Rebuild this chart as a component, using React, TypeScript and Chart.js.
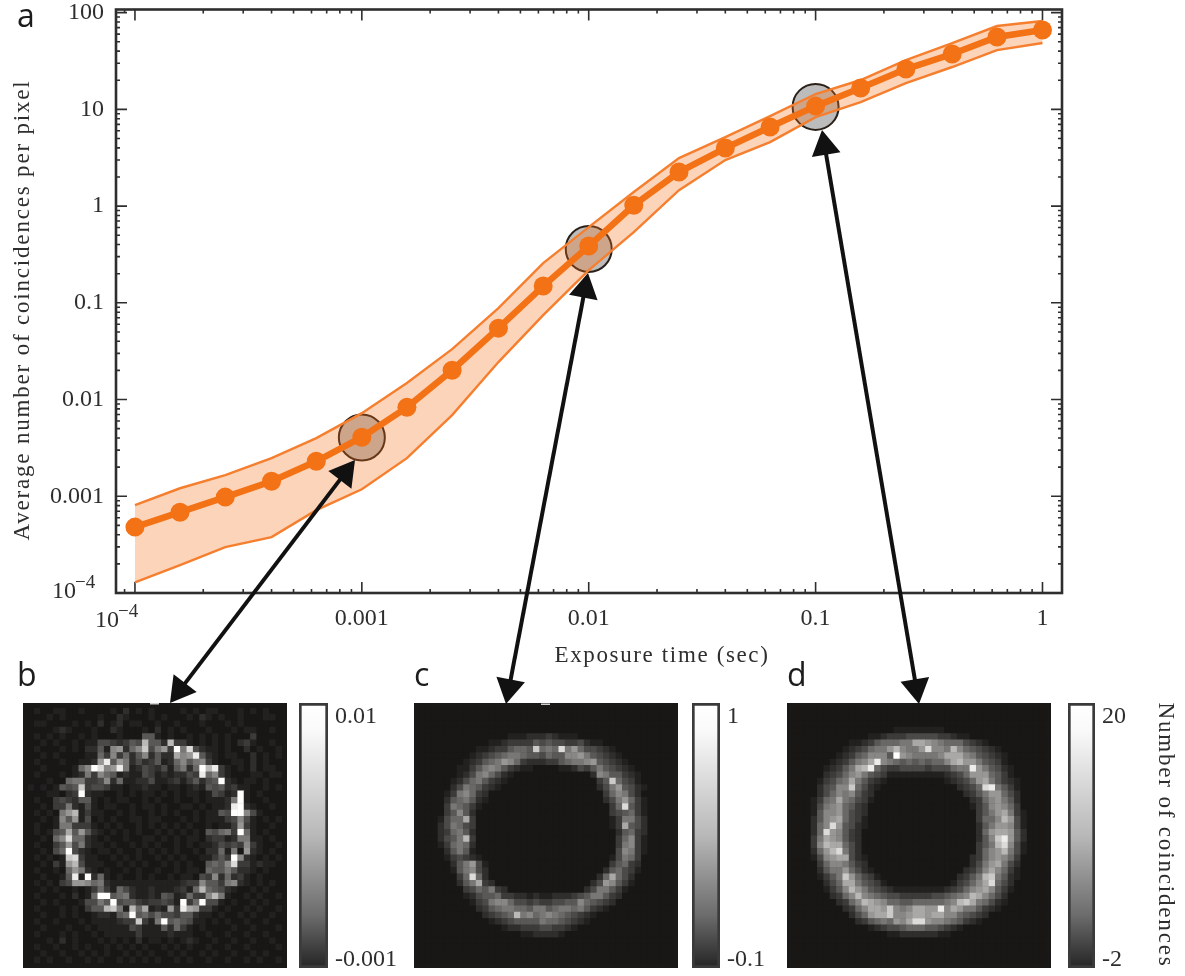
import React, { useEffect, useRef } from "react";
import { Chart, registerables } from "chart.js";

Chart.register(...registerables);

const SERIF = '"Liberation Serif", serif';
const SANS = '"Open Sans", sans-serif';
const INK = "#2e2e2e";
const ORANGE = "#f47216";

// ---------- panel a ----------
const exposure = [0.0001, 0.000158, 0.00025, 0.0004, 0.00063, 0.001, 0.00158, 0.0025, 0.004, 0.0063, 0.01, 0.0158, 0.025, 0.04, 0.063, 0.1, 0.158, 0.25, 0.4, 0.63, 1];
const meanCoincidences = [0.00048, 0.000685, 0.00098, 0.00143, 0.0023, 0.00408, 0.0083, 0.0201, 0.0547, 0.149, 0.386, 1.02, 2.25, 3.98, 6.56, 10.8, 16.6, 26.1, 37.3, 56, 66];
const upperBand = [0.000809, 0.00121, 0.00165, 0.00248, 0.00399, 0.00723, 0.0148, 0.0332, 0.0881, 0.257, 0.606, 1.4, 3.13, 5.17, 8.52, 14.4, 20.1, 32.3, 48.5, 72.7, 81.9];
const lowerBand = [0.000129, 0.000194, 0.000298, 0.000378, 0.000718, 0.00118, 0.00248, 0.0069, 0.0244, 0.0746, 0.218, 0.538, 1.46, 2.99, 4.59, 8.32, 11.9, 18.7, 27.4, 41, 48.5];
const markedExposure = [0.001, 0.01, 0.1];
const markedCoincidences = [0.00405, 0.36, 10.6];
const xTickLabels: Record<string, string> = { "-3": "0.001", "-2": "0.01", "-1": "0.1", "0": "1" };
const yTickLabels: Record<string, string> = { "-3": "0.001", "-2": "0.01", "-1": "0.1", "0": "1", "1": "10", "2": "100" };
const POWER_BASE = "10";
const POWER_EXP = "\u22124";
const X_TITLE = "Exposure time (sec)";
const Y_TITLE = "Average number of coincidences per pixel";
const COLORBAR_TITLE = "Number of coincidences";
const ARROWS = [
  [355, 460, 170, 703],
  [588, 273, 506, 704],
  [822, 130, 919, 704],
];

// ---------- panels b, c, d: one hex digit per cell, 0 = darkest, f = white ----------
const imageB = [
  "0100110010 0001020101 0000101011 0001010100",
  "0001010000 0100210001 0100010210 1001000110",
  "0110000101 0201201100 1001000100 0101000000",
  "0000121000 1002100010 2010100010 0010110010",
  "0101010010 1000100055 1010010101 0100030000",
  "0010100101 14432354b5 52b3310101 0102310010",
  "0100010102 25189268c4 793f7d4211 0100201001",
  "0010100001 1638362582 522a89e521 0110020101",
  "0100010011 29e5972423 5126857831 0011020100",
  "0010000168 fd89e71243 2415726fbe 3101020110",
  "0100010127 3865121143 1212243e68 3100011011",
  "0001006773 3482611224 1123135245 f210110100",
  "10101545c3 4431101121 1011012154 5231100101",
  "00011023f2 1100101011 0101011014 312f101000",
  "0100343255 1010110010 1001001011 127f100100",
  "0010337214 1011001011 0100110101 12ef210010",
  "0101079b13 1100101001 0101001011 54ff841000",
  "0010185914 0101001101 1000101011 1348410101",
  "0100177333 1010100101 0101010010 1139310010",
  "010145a595 2101010100 1010101054 673f610100",
  "001068d662 1010010011 0101011023 3127711010",
  "0100359472 1101001010 1001010112 4343831001",
  "001046f421 0110100101 0101001022 6170921010",
  "010101cd31 1001010100 1010100113 53f8210101",
  "0010319b41 1100101010 0101010056 58d3312110",
  "0100106972 1010010100 1001011065 5752210100",
  "0010015e1f 2610100101 0010110438 2623101000",
  "0101034998 6721111111 1111233855 3782101010",
  "0010100101 3631642112 1112316b65 4210010100",
  "0100010201 6ff5672112 154126338b 7100101001",
  "0010100014 475f455323 3431f36f44 1010010100",
  "0100010103 55bc71b6a1 2193ea9331 0100101001",
  "0010010100 122156f564 6443552110 1001010010",
  "0100100010 1111233c31 7f56541101 0100100100",
  "0010001001 0111114311 1526310100 0010010001",
  "0100010100 1011111311 1121110010 0100100100",
  "0001020100 0101010201 1010121001 0010010010",
  "0100100101 0010101010 0101010010 0100100001",
  "0010010010 1010010101 0010100101 0010010100",
  "0101001001 0100101010 1001010010 0100101001",
];

const imageC = [
  "0000000000 0000000000 0000000000 0000000000",
  "0000000000 0000000000 0000000000 0000000000",
  "0000000000 0000000000 0000000000 0000000000",
  "0000000000 0000000000 0000000000 0000000000",
  "0000000000 0000111222 3211100000 0000000000",
  "0000000000 0112333354 5443342110 0000000000",
  "0000000001 12335665c6 76d7964432 1000000000",
  "0000000012 3456776554 6558897543 2100000000",
  "0000000123 5679863222 3356778954 3210000000",
  "0000001135 7875321100 0011243575 4321000000",
  "0000001247 8642100000 0000000287 5532100000",
  "0000012467 5321000000 0000000035 c643100000",
  "0000024765 3210000000 0000000024 7954210000",
  "0000137863 2000000000 0000000003 6874200000",
  "0000256752 1000000000 0000000002 4796310000",
  "0000376531 0000000000 0000000000 36d5310000",
  "0000358520 0000000000 0000000000 3456310000",
  "0001466a30 0000000000 0000000000 1377420000",
  "0002476430 0000000000 0000000000 13a5420000",
  "0002367520 0000000000 0000000000 0256320000",
  "0002457b30 0000000000 0000000000 0368310000",
  "0001367620 0000000000 0000000000 0378310000",
  "0000257510 0000000000 0000000000 0487310000",
  "0000134321 0000000000 0000000000 1476300000",
  "0000025794 1000000000 0000000000 3563200000",
  "0000015784 2000000000 0000000002 5643100000",
  "00000036d6 2000000000 0000000026 a642000000",
  "000000257a 3200000000 0000000249 8531000000",
  "0000000346 5732000000 0000002477 5310000000",
  "0000000124 5563322121 1222345775 3200000000",
  "0000000013 4788644343 3445586543 2000000000",
  "0000000002 3567766577 5677675321 0000000000",
  "0000000000 23456b7867 8765432100 0000000000",
  "0000000000 0123455557 6654321000 0000000000",
  "0000000000 0001223334 4332100000 0000000000",
  "0000000000 0000001122 2210000000 0000000000",
  "0000000000 0000000000 0000000000 0000000000",
  "0000000000 0000000000 0000000000 0000000000",
  "0000000000 0000000000 0000000000 0000000000",
  "0000000000 0000000000 0000000000 0000000000",
];

const imageD = [
  "0000000000 0000000000 0000000000 0000000000",
  "0000000000 0000000000 0000000000 0000000000",
  "0000000000 0000000000 0000000000 0000000000",
  "0000000000 0000001111 1111000000 0000000000",
  "0000000000 0011233344 4443321100 0000000000",
  "0000000001 123566677a a987666432 1000000000",
  "0000000012 346779b877 9d887b8654 3210000000",
  "0000000123 568885f987 7778aaa875 4321000000",
  "0000001235 78ae876565 65668ab997 5431000000",
  "0000012357 abe6433444 43444677e9 7542100000",
  "0000023468 9754311111 1111234699 9653100000",
  "000013467a 7532100000 0000123469 a753210000",
  "000024588c 6421000000 0000002346 de75310000",
  "0000246878 5320000000 0000000235 7996420000",
  "0001367a76 4310000000 0000000023 6897520000",
  "0001478965 3200000000 0000000013 5898630000",
  "0001588964 3200000000 0000000003 579a731000",
  "0002589a64 3100000000 0000000003 668b941000",
  "000268d954 2100000000 0000000002 5799841000",
  "00026d9853 2000000000 0000000002 69aa952000",
  "00037a9853 2000000000 0000000002 58ce952000",
  "00038baa64 2000000000 0000000003 57bd841000",
  "000269bd74 2000000000 0000000003 689b741000",
  "0001489aa4 2100000000 0000000023 6898630000",
  "0000368875 3200000000 0000000024 79a7420000",
  "0000257796 4210000000 0000000235 8a86310000",
  "00001357c9 6431000000 0000002357 bc75210000",
  "00000246aa 7543100000 0000013468 ad64200000",
  "000001358b 9754321111 1111234689 a853100000",
  "0000002368 b876544333 33445678ba 8642000000",
  "0000000236 8ba9866556 666678bca7 6421000000",
  "0000000023 68aa9c878a a99e8a9775 3210000000",
  "0000000002 469aac889a a9aa886543 2000000000",
  "0000000000 23567698ad d988765321 0000000000",
  "0000000000 0012344566 6554321000 0000000000",
  "0000000000 0000011222 2221100000 0000000000",
  "0000000000 0000000000 0000000000 0000000000",
  "0000000000 0000000000 0000000000 0000000000",
  "0000000000 0000000000 0000000000 0000000000",
  "0000000000 0000000000 0000000000 0000000000",
];

const barB = { lo: -0.001, hi: 0.01, labels: ["0.01", "-0.001"] };
const barC = { lo: -0.1, hi: 1, labels: ["1", "-0.1"] };
const barD = { lo: -2, hi: 20, labels: ["20", "-2"] };

const FRAME_TOP = 9.5;
const FRAME_BOTTOM = 593;

function fittedText(ctx: any, text: string, cx: number, cy: number, width: number, angle: number, font: string) {
  ctx.save();
  ctx.translate(cx, cy);
  ctx.rotate(angle);
  ctx.font = font;
  ctx.fillStyle = INK;
  ctx.textAlign = "center";
  ctx.textBaseline = "middle";
  const natural = ctx.measureText(text).width;
  ctx.letterSpacing = (width - natural) / text.length + "px";
  ctx.fillText(text, 0, 0);
  ctx.restore();
}

function drawPower(ctx: any, left: number, midY: number) {
  ctx.save();
  ctx.fillStyle = INK;
  ctx.textAlign = "left";
  ctx.textBaseline = "middle";
  ctx.font = "24px " + SERIF;
  ctx.fillText(POWER_BASE, left, midY);
  ctx.font = "19px " + SERIF;
  ctx.fillText(POWER_EXP, left + 23, midY - 9);
  ctx.restore();
}

function drawHead(ctx: any, tx: number, ty: number, ux: number, uy: number) {
  const len = 25;
  const half = 14.5;
  ctx.beginPath();
  ctx.moveTo(tx, ty);
  ctx.lineTo(tx - ux * len - uy * half, ty - uy * len + ux * half);
  ctx.lineTo(tx - ux * len + uy * half, ty - uy * len - ux * half);
  ctx.closePath();
  ctx.fill();
}

function isIntegerMantissa(v: number) {
  const e = Math.floor(Math.log10(v) + 1e-9);
  const m = v / Math.pow(10, e);
  return Math.abs(m - Math.round(m)) < 1e-6;
}

function isDecade(v: number) {
  const l = Math.log10(v);
  return Math.abs(l - Math.round(l)) < 1e-6;
}

const frameAndNotes = {
  id: "frameAndNotes",
  afterLayout(chart: any) {
    // pin the vertical extent of the plot box to the reference
    const a = chart.chartArea;
    const y = chart.scales.y;
    a.top = FRAME_TOP;
    a.bottom = FRAME_BOTTOM;
    a.height = FRAME_BOTTOM - FRAME_TOP;
    y.top = FRAME_TOP;
    y.bottom = FRAME_BOTTOM;
    y.height = FRAME_BOTTOM - FRAME_TOP;
    y.configure();
  },
  beforeDatasetsDraw(chart: any) {
    const { ctx, chartArea: a, scales } = chart;
    ctx.save();
    ctx.strokeStyle = INK;
    ctx.lineWidth = 1.6;
    const major = 11;
    const minor = 4;
    ctx.beginPath();
    for (const t of scales.x.ticks) {
      if (t.value < scales.x.min * 0.9999 || t.value > scales.x.max * 0.9999 || !isIntegerMantissa(t.value)) continue;
      const p = scales.x.getPixelForValue(t.value);
      const l = isDecade(t.value) ? major : minor;
      ctx.moveTo(p, a.bottom);
      ctx.lineTo(p, a.bottom - l);
      ctx.moveTo(p, a.top);
      ctx.lineTo(p, a.top + l);
    }
    for (const t of scales.y.ticks) {
      if (t.value < scales.y.min * 0.9999 || t.value > scales.y.max * 0.9999 || !isIntegerMantissa(t.value)) continue;
      const p = scales.y.getPixelForValue(t.value);
      const l = isDecade(t.value) ? major : minor;
      ctx.moveTo(a.left, p);
      ctx.lineTo(a.left + l, p);
      ctx.moveTo(a.right, p);
      ctx.lineTo(a.right - l, p);
    }
    ctx.stroke();
    ctx.lineWidth = 2.6;
    ctx.strokeRect(a.left, a.top, a.right - a.left, a.bottom - a.top);
    ctx.restore();
  },
  afterDatasetsDraw(chart: any) {
    const { ctx } = chart;
    ctx.save();
    ctx.fillStyle = "#111";
    ctx.strokeStyle = "#111";
    ctx.lineWidth = 4;
    for (const [x1, y1, x2, y2] of ARROWS) {
      const d = Math.hypot(x2 - x1, y2 - y1);
      const ux = (x2 - x1) / d;
      const uy = (y2 - y1) / d;
      ctx.beginPath();
      ctx.moveTo(x1 + ux * 20, y1 + uy * 20);
      ctx.lineTo(x2 - ux * 20, y2 - uy * 20);
      ctx.stroke();
      drawHead(ctx, x2, y2, ux, uy);
      drawHead(ctx, x1, y1, -ux, -uy);
    }

    // the 10^-4 labels carry a raised exponent; the x one sits left of its tick in the reference
    drawPower(ctx, 95, 621);
    drawPower(ctx, 52, 592);

    fittedText(ctx, X_TITLE, 662, 656, 215, 0, "23px " + SERIF);
    fittedText(ctx, Y_TITLE, 23, 310, 461, -Math.PI / 2, "23px " + SERIF);
    fittedText(ctx, COLORBAR_TITLE, 1165, 835, 265, Math.PI / 2, "23px " + SERIF);

    ctx.font = "32px " + SANS;
    ctx.fillStyle = "#1c1c1c";
    ctx.textAlign = "left";
    ctx.textBaseline = "alphabetic";
    ctx.fillText("a", 17, 27);
    ctx.fillText("b", 17, 686);
    ctx.fillText("c", 414, 686);
    ctx.fillText("d", 787, 686);

    ctx.fillStyle = "#cfcfcf";
    ctx.fillRect(150, 703, 9, 1.5);
    ctx.fillRect(541, 703.5, 9, 1.5);
    ctx.restore();
  },
};

function decadeKey(v: number): string | null {
  return isDecade(v) ? String(Math.round(Math.log10(v))) : null;
}

function toPoints(ys: number[]) {
  return ys.map((y, i) => ({ x: exposure[i], y }));
}

function zeroPadding(s: any) {
  s.paddingTop = 0;
  s.paddingBottom = 0;
  s.paddingLeft = 0;
  s.paddingRight = 0;
}

function MainPlot() {
  const ref = useRef<HTMLCanvasElement>(null);
  useEffect(() => {
    const chart = new Chart(ref.current as any, {
      type: "scatter",
      data: {
        datasets: [
          {
            label: "marked exposures",
            data: markedExposure.map((x, i) => ({ x, y: markedCoincidences[i] })),
            pointRadius: 23,
            pointBackgroundColor: "#bcbcbc",
            pointBorderColor: "#2a2018",
            pointBorderWidth: 2,
            showLine: false,
            order: 4,
          },
          {
            label: "upper",
            data: toPoints(upperBand),
            showLine: true,
            borderColor: "#f57f2e",
            borderWidth: 2.4,
            pointRadius: 0,
            fill: "+1",
            backgroundColor: "rgba(246,112,25,0.3)",
            order: 3,
          },
          {
            label: "lower",
            data: toPoints(lowerBand),
            showLine: true,
            borderColor: "#f57f2e",
            borderWidth: 2.4,
            pointRadius: 0,
            order: 2,
          },
          {
            label: "mean",
            data: toPoints(meanCoincidences),
            showLine: true,
            borderColor: ORANGE,
            borderWidth: 6.5,
            pointRadius: 9.5,
            pointBackgroundColor: ORANGE,
            pointBorderWidth: 0,
            order: 1,
            clip: false,
          },
        ],
      } as any,
      options: {
        animation: false,
        responsive: false,
        devicePixelRatio: 1,
        layout: { padding: { left: 0, top: 9.5, right: 123, bottom: 313 } },
        plugins: { legend: { display: false }, tooltip: { enabled: false } },
        scales: {
          x: {
            type: "logarithmic",
            bounds: "data",
            min: 8.25e-5,
            max: 1.219,
            grid: { display: false, drawTicks: false },
            border: { display: false },
            afterFit(s: any) {
              s.height = 70;
              zeroPadding(s);
            },
            ticks: {
              autoSkip: false,
              maxRotation: 0,
              padding: 11,
              color: INK,
              font: { family: SERIF, size: 24 },
              callback(v: any) {
                const k = decadeKey(Number(v));
                return k !== null && xTickLabels[k] ? xTickLabels[k] : "";
              },
            },
          },
          y: {
            type: "logarithmic",
            bounds: "data",
            min: 1e-4,
            max: 107.7,
            grid: { display: false, drawTicks: false },
            border: { display: false },
            afterFit(s: any) {
              s.width = 116;
              zeroPadding(s);
            },
            ticks: {
              autoSkip: false,
              padding: 12,
              color: INK,
              font: { family: SERIF, size: 24 },
              callback(v: any) {
                const k = decadeKey(Number(v));
                return k !== null && yTickLabels[k] ? yTickLabels[k] : "";
              },
            },
          },
        },
      },
      plugins: [frameAndNotes],
    } as any);
    return () => chart.destroy();
  }, []);
  return <canvas ref={ref} width={1185} height={976} style={{ position: "absolute", left: 0, top: 0, zIndex: 2 }} />;
}

function HeatImage({ rows, left }: { rows: string[]; left: number }) {
  const ref = useRef<HTMLCanvasElement>(null);
  useEffect(() => {
    const points: { x: number; y: number }[] = [];
    const colors: string[] = [];
    rows.forEach((row, y) => {
      const cells = row.replace(/ /g, "");
      for (let x = 0; x < cells.length; x++) {
        const g = Math.round(24 + 231 * Math.pow(parseInt(cells[x], 16) / 15, 1.15));
        points.push({ x, y });
        colors.push(`rgb(${g},${Math.max(g - 1, 0)},${Math.max(g - 2, 0)})`);
      }
    });
    const chart = new Chart(ref.current as any, {
      type: "scatter",
      data: {
        datasets: [
          {
            data: points,
            pointStyle: "rect",
            pointRadius: 4.85,
            pointBorderWidth: 0,
            pointBackgroundColor: colors,
          },
        ],
      },
      options: {
        animation: false,
        responsive: false,
        devicePixelRatio: 1,
        layout: { padding: 0 },
        plugins: { legend: { display: false }, tooltip: { enabled: false } },
        scales: {
          x: { type: "linear", min: -0.5, max: 39.5, display: false },
          y: { type: "linear", min: -0.5, max: 39.5, reverse: true, display: false },
        },
      },
    } as any);
    return () => chart.destroy();
  }, [rows]);
  return (
    <canvas
      ref={ref}
      width={264}
      height={265}
      style={{ position: "absolute", left, top: 703, filter: "blur(0.7px)", background: "#1a1816" }}
    />
  );
}

function ColorBar({ spec, left, barWidth }: { spec: { lo: number; hi: number; labels: string[] }; left: number; barWidth: number }) {
  const ref = useRef<HTMLCanvasElement>(null);
  const W = 110;
  useEffect(() => {
    const { lo, hi, labels } = spec;
    const span = hi - lo;
    const chart = new Chart(ref.current as any, {
      type: "bar",
      data: {
        labels: [""],
        datasets: [
          {
            data: [[lo, hi]],
            barPercentage: 1,
            categoryPercentage: 1,
            borderWidth: 3,
            borderColor: "#3a3a3a",
            borderSkipped: false,
            backgroundColor(c: any) {
              const a = c.chart.chartArea;
              if (!a) return "#888";
              const g = c.chart.ctx.createLinearGradient(0, a.top, 0, a.bottom);
              g.addColorStop(0, "#ffffff");
              g.addColorStop(0.1, "#fafafa");
              g.addColorStop(0.5, "#b8b8b8");
              g.addColorStop(0.8, "#6c6c6c");
              g.addColorStop(1, "#242424");
              return g;
            },
          },
        ],
      },
      options: {
        animation: false,
        responsive: false,
        devicePixelRatio: 1,
        layout: { padding: 0 },
        plugins: { legend: { display: false }, tooltip: { enabled: false } },
        scales: {
          x: { display: false },
          y: {
            type: "linear",
            position: "right",
            min: lo,
            max: hi,
            grid: { display: false, drawTicks: false },
            border: { display: false },
            afterBuildTicks(s: any) {
              s.ticks = [{ value: lo + span * 0.03 }, { value: hi - span * 0.05 }];
            },
            afterFit(s: any) {
              s.width = W - barWidth;
              zeroPadding(s);
            },
            ticks: {
              autoSkip: false,
              padding: 7,
              color: INK,
              font: { family: SERIF, size: 24 },
              callback(_v: any, i: number) {
                return i === 0 ? labels[1] : labels[0];
              },
            },
          },
        },
      },
    } as any);
    return () => chart.destroy();
  }, [spec, barWidth]);
  return <canvas ref={ref} width={W} height={265} style={{ position: "absolute", left, top: 703 }} />;
}

export default function App() {
  return (
    <div style={{ position: "absolute", left: 0, top: 0, width: 1185, height: 976, overflow: "hidden", background: "#fff" }}>
      <HeatImage rows={imageB} left={23} />
      <HeatImage rows={imageC} left={414} />
      <HeatImage rows={imageD} left={787} />
      <ColorBar spec={barB} left={299} barWidth={29} />
      <ColorBar spec={barC} left={692} barWidth={28} />
      <ColorBar spec={barD} left={1068} barWidth={27} />
      <MainPlot />
    </div>
  );
}
